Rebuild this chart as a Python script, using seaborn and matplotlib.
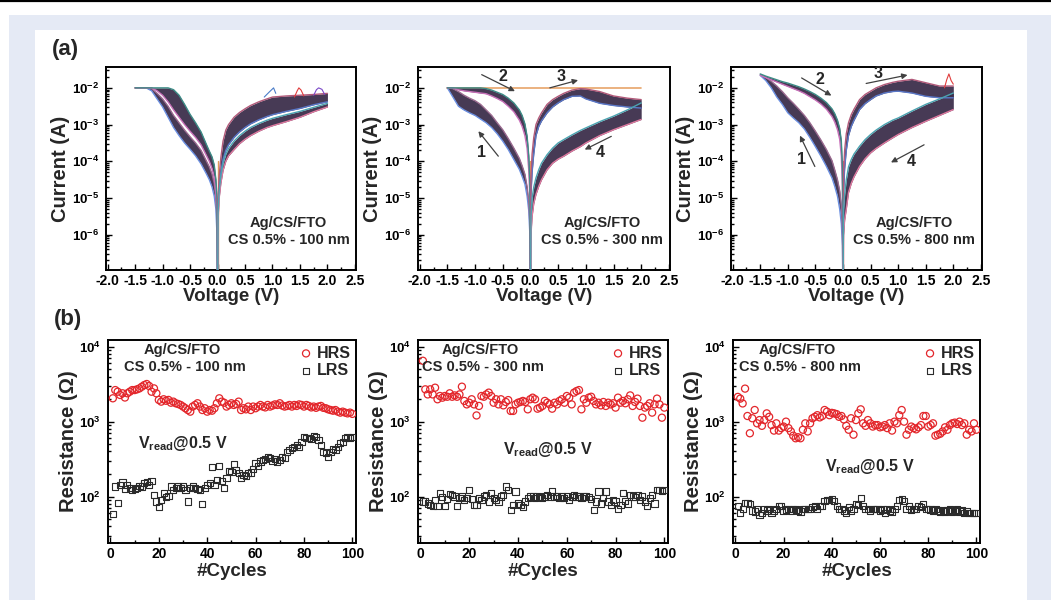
import numpy as np
import matplotlib
matplotlib.use('Agg')
import matplotlib.pyplot as plt
from matplotlib.patches import Rectangle
from matplotlib.lines import Line2D
from matplotlib.ticker import LogLocator, FuncFormatter, MultipleLocator, NullFormatter, FormatStrFormatter
import seaborn as sns

sns.set_style('ticks')
plt.rcParams['font.family'] = ['Liberation Sans', 'DejaVu Sans']
plt.rcParams['font.weight'] = 'bold'
plt.rcParams['axes.labelweight'] = 'bold'
plt.rcParams['axes.unicode_minus'] = False
plt.rcParams['mathtext.fontset'] = 'custom'
plt.rcParams['mathtext.rm'] = 'Liberation Sans:bold'
plt.rcParams['mathtext.bf'] = 'Liberation Sans:bold'
plt.rcParams['mathtext.it'] = 'Liberation Sans:bold:italic'

# ---------------- (a) I-V data: voltage grids and log10(current) envelopes ----------------
v_neg = [-1.5, -1.4, -1.3, -1.2, -1.1, -1.0, -0.9, -0.8, -0.7, -0.6, -0.5, -0.4, -0.3, -0.2, -0.15, -0.1, -0.06, -0.03, -0.01, 0.0]
v_pos = [0.0, 0.01, 0.03, 0.06, 0.1, 0.15, 0.2, 0.3, 0.4, 0.5, 0.6, 0.75, 0.9, 1.0, 1.25, 1.5, 1.75, 2.0]

# 100 nm
L_n1_lo = [-2.0, -2.0, -2.0, -2.08, -2.3, -2.52, -2.8, -3.08, -3.3, -3.5, -3.67, -3.85, -4.07, -4.35, -4.5, -4.7, -4.95, -5.3, -6.0, -8]
L_n1_hi = [-2.0, -2.0, -2.0, -2.02, -2.15, -2.3, -2.5, -2.75, -2.95, -3.15, -3.33, -3.5, -3.7, -4.0, -4.15, -4.35, -4.6, -5.0, -5.6, -8]
L_n2_lo = [-2.0, -2.0, -2.0, -2.0, -2.08, -2.2, -2.38, -2.6, -2.8, -3.0, -3.18, -3.35, -3.55, -3.85, -4.0, -4.2, -4.45, -4.85, -5.4, -8]
L_n2_hi = [-2.0, -2.0, -2.0, -2.0, -2.0, -2.0, -2.0, -2.05, -2.2, -2.45, -2.72, -2.95, -3.2, -3.55, -3.72, -3.88, -4.1, -4.5, -5.0, -8]
L_p3_lo = [-8, -5.3, -4.7, -4.3, -3.95, -3.7, -3.55, -3.35, -3.2, -3.08, -2.98, -2.87, -2.78, -2.73, -2.64, -2.56, -2.46, -2.38]
L_p3_hi = [-8, -5.0, -4.4, -3.9, -3.45, -3.15, -3.0, -2.8, -2.67, -2.57, -2.48, -2.38, -2.3, -2.25, -2.22, -2.2, -2.18, -2.15]
L_p4_lo = [-8, -5.6, -5.0, -4.6, -4.25, -4.0, -3.85, -3.68, -3.52, -3.4, -3.3, -3.18, -3.08, -3.03, -2.92, -2.8, -2.65, -2.52]
L_p4_hi = [-8, -5.4, -4.8, -4.4, -4.05, -3.8, -3.65, -3.45, -3.3, -3.18, -3.08, -2.97, -2.88, -2.83, -2.73, -2.64, -2.53, -2.42]
L_spk1_v = [1.40, 1.45, 1.48, 1.52, 1.57]
L_spk1_i = [-2.25, -2.08, -2.0, -2.06, -2.22]
L_spk2_v = [1.75, 1.80, 1.84, 1.90, 1.95]
L_spk2_i = [-2.2, -2.05, -2.0, -2.04, -2.18]
L_spk3_v = [0.85, 0.95, 1.02, 1.06]
L_spk3_i = [-2.25, -2.1, -2.0, -2.15]

# 300 nm
M_n1_lo = [-2.0, -2.25, -2.5, -2.6, -2.68, -2.75, -2.85, -2.95, -3.08, -3.25, -3.45, -3.68, -3.95, -4.22, -4.41, -4.62, -4.95, -5.35, -6.0, -8]
M_n1_hi = [-2.0, -2.02, -2.1, -2.2, -2.28, -2.35, -2.45, -2.6, -2.75, -2.95, -3.14, -3.38, -3.64, -3.92, -4.12, -4.35, -4.7, -5.1, -5.7, -8]
M_n2_lo = [-2.0, -2.0, -2.05, -2.08, -2.1, -2.12, -2.14, -2.16, -2.22, -2.29, -2.37, -2.5, -2.65, -2.88, -3.05, -3.3, -3.65, -4.25, -5.0, -8]
M_n2_hi = [-2.0, -2.0, -2.0, -2.0, -2.0, -2.0, -2.0, -2.02, -2.06, -2.12, -2.18, -2.28, -2.41, -2.6, -2.75, -2.98, -3.32, -3.85, -4.6, -8]
M_p3_lo = [-8, -4.9, -4.3, -3.8, -3.3, -3.05, -2.9, -2.68, -2.52, -2.41, -2.32, -2.23, -2.22, -2.3, -2.42, -2.48, -2.52, -2.55]
M_p3_hi = [-8, -4.4, -3.8, -3.35, -3.0, -2.82, -2.68, -2.45, -2.32, -2.23, -2.15, -2.06, -2.02, -2.03, -2.1, -2.22, -2.28, -2.32]
M_p4_lo = [-8, -6.0, -5.5, -5.15, -4.9, -4.68, -4.5, -4.23, -4.05, -3.94, -3.86, -3.72, -3.6, -3.5, -3.3, -3.14, -3.0, -2.86]
M_p4_hi = [-8, -5.5, -5.0, -4.7, -4.45, -4.23, -4.05, -3.82, -3.64, -3.5, -3.41, -3.28, -3.16, -3.09, -2.92, -2.77, -2.6, -2.41]

# 800 nm
R_n1_lo = [-1.66, -1.8, -2.0, -2.25, -2.45, -2.68, -2.82, -2.95, -3.12, -3.35, -3.6, -3.86, -4.14, -4.45, -4.68, -4.95, -5.3, -5.7, -6.3, -8]
R_n1_hi = [-1.64, -1.72, -1.82, -1.95, -2.1, -2.27, -2.42, -2.58, -2.75, -2.95, -3.18, -3.42, -3.68, -3.98, -4.23, -4.5, -4.8, -5.2, -5.8, -8]
R_n2_lo = [-1.66, -1.72, -1.78, -1.84, -1.9, -1.96, -2.02, -2.08, -2.15, -2.24, -2.33, -2.44, -2.58, -2.78, -2.93, -3.14, -3.4, -3.86, -4.7, -8]
R_n2_hi = [-1.62, -1.68, -1.73, -1.78, -1.83, -1.87, -1.92, -1.97, -2.03, -2.1, -2.18, -2.28, -2.4, -2.57, -2.7, -2.88, -3.1, -3.45, -4.2, -8]
R_p3_lo = [-8, -4.8, -4.2, -3.7, -3.3, -3.05, -2.88, -2.59, -2.43, -2.32, -2.22, -2.14, -2.1, -2.09, -2.14, -2.23, -2.27, -2.27]
R_p3_hi = [-8, -4.3, -3.7, -3.25, -2.95, -2.73, -2.58, -2.32, -2.18, -2.09, -2.0, -1.91, -1.85, -1.82, -1.77, -1.86, -1.95, -1.95]
R_p4_lo = [-8, -6.0, -5.6, -5.3, -4.85, -4.6, -4.42, -4.14, -3.93, -3.77, -3.65, -3.5, -3.36, -3.27, -3.08, -2.91, -2.75, -2.59]
R_p4_hi = [-8, -5.3, -4.9, -4.5, -4.15, -3.95, -3.8, -3.59, -3.41, -3.27, -3.15, -3.0, -2.88, -2.82, -2.63, -2.45, -2.3, -2.14]
R_spk_v = [1.84, 1.88, 1.92, 1.96, 2.0]
R_spk_i = [-2.0, -1.78, -1.62, -1.8, -1.9]

# compliance / zero-voltage lines
L_comp_v = [-1.5, -1.2]
M_comp_v = [-1.5, 2.0]
comp_i = [1e-2, 1e-2]
zero_v = [0.0, 0.0]
zero_i = [1e-8, 1e-4]

# arrows (tail V, tail log I, head V, head log I) and labels
M_arrows = [(-0.88, -1.64, -0.28, -2.09), (0.35, -2.0, 0.86, -1.79), (-0.58, -3.86, -0.94, -3.18), (1.46, -3.32, 0.98, -3.68)]
M_nums = [('2', -0.49, -1.68), ('3', 0.55, -1.68), ('1', -0.88, -3.77), ('4', 1.26, -3.77)]
R_arrows = [(-0.75, -1.73, -0.21, -2.21), (0.42, -1.88, 1.17, -1.65), (-0.51, -4.14, -0.78, -3.3), (1.47, -3.55, 0.87, -4.03)]
R_nums = [('2', -0.42, -1.77), ('3', 0.63, -1.61), ('1', -0.75, -3.94), ('4', 1.23, -4.0)]

# ---------------- (b) endurance data ----------------
cycles = list(range(1, 101))
hrs_100 = [2050, 2640, 2510, 2270, 2390, 2100, 2390, 2510, 2640, 2640, 2700, 2780, 2930, 3080, 3180, 2990, 2510, 2780, 2390, 1950,
           1850, 1990, 1900, 1950, 1790, 1850, 1760, 1720, 1670, 1590, 1510, 1430, 1360, 1590, 1670, 1760, 1590, 1430, 1510, 1360,
           1430, 1400, 1510, 1760, 2050, 1850, 1790, 1590, 1670, 1760, 1670, 1720, 1850, 1430, 1510, 1460, 1590, 1430, 1590, 1510,
           1590, 1670, 1590, 1550, 1670, 1590, 1640, 1700, 1670, 1760, 1640, 1590, 1620, 1670, 1590, 1670, 1620, 1700, 1670, 1590,
           1670, 1620, 1550, 1590, 1530, 1590, 1620, 1530, 1510, 1460, 1430, 1400, 1430, 1360, 1320, 1360, 1320, 1290, 1320, 1270]
lrs_100 = [59, 136, 83, 143, 154, 125, 143, 129, 123, 125, 129, 139, 136, 151, 158, 143, 163, 105, 86, 72,
           90, 111, 98, 102, 136, 123, 129, 136, 129, 136, 123, 86, 129, 136, 129, 125, 123, 80, 129, 143,
           151, 251, 143, 167, 256, 163, 129, 176, 222, 215, 272, 227, 205, 176, 194, 189, 205, 209, 231, 278,
           256, 293, 308, 315, 341, 324, 300, 315, 293, 308, 341, 324, 398, 419, 441, 464, 489, 464, 541, 631,
           600, 610, 590, 651, 631, 570, 489, 398, 378, 341, 398, 429, 419, 464, 514, 541, 600, 620, 610, 631]
hrs_300 = [6500, 2700, 2310, 2700, 2310, 2840, 1990, 2200, 2090, 2200, 2150, 2390, 2150, 2240, 2150, 2310, 2930, 1890, 1700, 1790,
           1990, 1700, 1210, 1620, 2200, 2150, 2310, 2440, 2200, 1790, 1990, 1700, 1990, 1650, 1830, 1940, 1390, 1390, 1700, 1790,
           1830, 1890, 1830, 1460, 1990, 2090, 1990, 1490, 1540, 1620, 1890, 1790, 1700, 1490, 1790, 1700, 1890, 1990, 1790, 2200,
           2090, 1700, 2440, 2560, 2640, 1460, 1990, 1790, 2090, 2150, 1890, 1700, 1790, 1650, 1830, 1620, 1790, 1700, 1760, 1540,
           2090, 1790, 1890, 1760, 1990, 2240, 1620, 1830, 2030, 1620, 1130, 1540, 1620, 1760, 1320, 1700, 2030, 1700, 1130, 1540]
lrs_300 = [86, 86, 81, 77, 75, 90, 74, 111, 98, 74, 92, 109, 105, 100, 74, 95, 100, 90, 95, 123,
           92, 77, 77, 95, 90, 100, 105, 86, 111, 95, 90, 86, 100, 105, 136, 123, 66, 77, 117, 81,
           77, 72, 86, 95, 100, 100, 95, 100, 98, 95, 100, 105, 100, 117, 100, 102, 95, 100, 95, 102,
           90, 98, 105, 100, 100, 95, 100, 100, 98, 92, 66, 86, 117, 81, 95, 117, 86, 77, 90, 86,
           68, 77, 111, 88, 81, 105, 100, 98, 105, 90, 100, 86, 74, 95, 105, 81, 123, 123, 120, 123]
hrs_800 = [2140, 2030, 1750, 2760, 1190, 700, 1110, 1430, 950, 1050, 880, 1050, 1290, 1160, 900, 760, 950, 760, 820, 860,
           1000, 820, 740, 650, 600, 620, 600, 780, 950, 740, 950, 1110, 1160, 1220, 1140, 1190, 1430, 1360, 1220, 1310,
           1290, 1260, 1160, 1190, 1070, 880, 780, 1110, 670, 1050, 1290, 1460, 950, 880, 1050, 950, 860, 900, 900, 840,
           860, 900, 820, 950, 760, 1000, 950, 1220, 1430, 1000, 670, 780, 860, 820, 790, 840, 900, 1190, 1190, 860,
           900, 950, 650, 670, 690, 740, 840, 780, 900, 950, 970, 930, 1000, 900, 950, 670, 780, 740, 950, 780]
lrs_800 = [75, 60, 68, 82, 82, 79, 65, 63, 68, 57, 61, 68, 65, 69, 61, 65, 69, 75, 74, 65,
           67, 68, 65, 68, 67, 65, 63, 68, 69, 68, 69, 72, 75, 68, 74, 75, 88, 90, 90, 92,
           88, 75, 68, 69, 65, 61, 72, 65, 68, 79, 77, 95, 74, 68, 69, 65, 68, 69, 68, 65,
           67, 61, 68, 65, 63, 68, 74, 90, 92, 88, 68, 74, 67, 69, 68, 75, 72, 79, 69, 68,
           67, 65, 68, 65, 63, 65, 63, 65, 67, 63, 65, 67, 63, 65, 60, 63, 61, 60, 61, 60]

thick_labels = ['CS 0.5% - 100 nm', 'CS 0.5% - 300 nm', 'CS 0.5% - 800 nm']

# ---------------- figure ----------------
W, H = 1051, 600
fig = plt.figure(figsize=(W / 100, H / 100), dpi=100)
fig.patch.set_facecolor('white')
fig.patches.append(Rectangle((9 / W, 0), (W - 9) / W, (H - 15) / H, transform=fig.transFigure,
                             facecolor='#e5eaf5', edgecolor='none', zorder=-10))
fig.patches.append(Rectangle((35 / W, 0), (1027 - 35) / W, (H - 30) / H, transform=fig.transFigure,
                             facecolor='white', edgecolor='none', zorder=-9))
fig.add_artist(Line2D([0, 1], [1 - 1 / H, 1 - 1 / H], transform=fig.transFigure, color='black', lw=1.6))


def px_axes(x0, y0, x1, y1):
    return fig.add_axes([x0 / W, 1 - y1 / H, (x1 - x0) / W, (y1 - y0) / H])


a_boxes = [(106, 67, 356, 270), (418, 67, 670, 270), (731, 67, 982, 270)]
b_boxes = [(108, 340, 356, 543), (418, 340, 668, 543), (733, 340, 980, 543)]

pow_fmt = FuncFormatter(lambda v, p: r'$\mathbf{10^{%d}}$' % int(round(np.log10(v))) if v > 0 else '')


def style_axis(ax):
    for s in ax.spines.values():
        s.set_linewidth(1.4)
        s.set_color('black')
    ax.tick_params(which='both', direction='in', top=False, right=False, width=1.0, colors='black')
    ax.tick_params(which='major', length=4.5)
    ax.tick_params(which='minor', length=2.5)
    ax.tick_params(axis='x', labelsize=10, pad=3)
    ax.tick_params(axis='y', labelsize=9.5, pad=5)


band_fill = '#3d2f4c'
edge_cols = [('#6b8fe0', '#9a6a8f'), ('#c76fb8', '#3d8c86'), ('#5a78c8', '#b25a7a'), ('#e07aa0', '#4aa3b0')]

sets = [
    dict(n1=(L_n1_lo, L_n1_hi), n2=(L_n2_lo, L_n2_hi), p3=(L_p3_lo, L_p3_hi), p4=(L_p4_lo, L_p4_hi)),
    dict(n1=(M_n1_lo, M_n1_hi), n2=(M_n2_lo, M_n2_hi), p3=(M_p3_lo, M_p3_hi), p4=(M_p4_lo, M_p4_hi)),
    dict(n1=(R_n1_lo, R_n1_hi), n2=(R_n2_lo, R_n2_hi), p3=(R_p3_lo, R_p3_hi), p4=(R_p4_lo, R_p4_hi)),
]

for k, box in enumerate(a_boxes):
    ax = px_axes(*box)
    ax.set_yscale('log')
    d = sets[k]
    zc = '#e09a5a' if k < 2 else '#e05a6a'
    sns.lineplot(x=zero_v, y=zero_i, ax=ax, color=zc, lw=1.0, sort=False, estimator=None)
    if k == 0:
        sns.lineplot(x=L_comp_v, y=comp_i, ax=ax, color='#e8a46a', lw=1.2, sort=False, estimator=None)
    if k == 1:
        sns.lineplot(x=M_comp_v, y=comp_i, ax=ax, color='#e8a46a', lw=1.2, sort=False, estimator=None)
    for j, (key, vv) in enumerate([('n1', v_neg), ('n2', v_neg), ('p3', v_pos), ('p4', v_pos)]):
        lo, hi = d[key]
        ilo = 10.0 ** np.array(lo)
        ihi = 10.0 ** np.array(hi)
        ax.fill_between(vv, ilo, ihi, color=band_fill, lw=0, alpha=0.95, zorder=2)
        c1, c2 = edge_cols[j]
        sns.lineplot(x=vv, y=ilo, ax=ax, color=c1, lw=1.0, sort=False, estimator=None, zorder=3)
        sns.lineplot(x=vv, y=ihi, ax=ax, color=c2, lw=1.0, sort=False, estimator=None, zorder=3)
    if k == 0:
        for sv, si, sc in [(L_spk1_v, L_spk1_i, '#e03c3c'), (L_spk2_v, L_spk2_i, '#7a48c8'), (L_spk3_v, L_spk3_i, '#4a7cc8')]:
            sns.lineplot(x=sv, y=10.0 ** np.array(si), ax=ax, color=sc, lw=0.8, sort=False, estimator=None, zorder=3)
    if k == 2:
        sns.lineplot(x=R_spk_v, y=10.0 ** np.array(R_spk_i), ax=ax, color='#e03c3c', lw=0.8, sort=False, estimator=None, zorder=3)
    if k in (1, 2):
        arrows = M_arrows if k == 1 else R_arrows
        nums = M_nums if k == 1 else R_nums
        for (tv, ti, hv, hi_) in arrows:
            ax.annotate('', xy=(hv, 10 ** hi_), xytext=(tv, 10 ** ti),
                        arrowprops=dict(arrowstyle='-|>', color='#404040', lw=0.9, mutation_scale=8,
                                        shrinkA=0, shrinkB=0), zorder=5)
        for (t, tv, ti) in nums:
            ax.text(tv, 10 ** ti, t, ha='center', va='center', fontsize=11.5, fontweight='bold', zorder=5)
    ax.set_xlim(-2.03, 2.52)
    ax.set_ylim(1.1e-7, 3.7e-2)
    ax.xaxis.set_major_locator(MultipleLocator(0.5))
    ax.xaxis.set_minor_locator(MultipleLocator(0.25))
    ax.xaxis.set_major_formatter(FormatStrFormatter('%.1f'))
    ax.yaxis.set_major_locator(LogLocator(base=10, numticks=12))
    ax.yaxis.set_minor_locator(LogLocator(base=10, subs=np.arange(2, 10), numticks=12))
    ax.yaxis.set_major_formatter(pow_fmt)
    ax.yaxis.set_minor_formatter(NullFormatter())
    style_axis(ax)
    ax.set_xlabel('Voltage (V)', fontsize=13.5, fontweight='bold', labelpad=0)
    ax.set_ylabel('Current (A)', fontsize=14.5, fontweight='bold', labelpad=1)
    ax.text(0.73, 0.23, 'Ag/CS/FTO', transform=ax.transAxes, ha='center', va='center', fontsize=10.5, fontweight='bold')
    ax.text(0.73, 0.148, thick_labels[k], transform=ax.transAxes, ha='center', va='center', fontsize=10.5, fontweight='bold')

b_data = [(hrs_100, lrs_100), (hrs_300, lrs_300), (hrs_800, lrs_800)]
b_txt_x = [0.30, 0.25, 0.26]
vread_pos = [(0.30, 0.49), (0.52, 0.46), (0.555, 0.375)]
for k, box in enumerate(b_boxes):
    ax = px_axes(*box)
    ax.set_yscale('log')
    hrs, lrs = b_data[k]
    sns.scatterplot(x=cycles, y=hrs, ax=ax, marker='o', s=26, facecolor='none', edgecolor='#e3262b',
                    linewidth=0.9, label='HRS', zorder=3)
    sns.scatterplot(x=cycles, y=lrs, ax=ax, marker='s', s=20, facecolor='none', edgecolor='#2b2b2b',
                    linewidth=0.8, label='LRS', zorder=3)
    ax.set_xlim(-1, 101.5)
    ax.set_ylim(24, 1.23e4)
    ax.xaxis.set_major_locator(MultipleLocator(20))
    ax.xaxis.set_minor_locator(MultipleLocator(10))
    ax.yaxis.set_major_locator(LogLocator(base=10, numticks=12))
    ax.yaxis.set_minor_locator(LogLocator(base=10, subs=np.arange(2, 10), numticks=12))
    ax.yaxis.set_major_formatter(pow_fmt)
    ax.yaxis.set_minor_formatter(NullFormatter())
    style_axis(ax)
    ax.set_xlabel('#Cycles', fontsize=13.5, fontweight='bold', labelpad=1)
    ax.set_ylabel('Resistance (Ω)', fontsize=14.5, fontweight='bold', labelpad=1)
    ax.legend(loc='upper right', frameon=False, handletextpad=0.05, borderaxespad=0.15,
              labelspacing=0.15, fontsize=11.5, borderpad=0.2, handlelength=1.2)
    ax.text(b_txt_x[k], 0.95, 'Ag/CS/FTO', transform=ax.transAxes, ha='center', va='center', fontsize=10.5, fontweight='bold')
    ax.text(b_txt_x[k] + 0.01, 0.865, thick_labels[k], transform=ax.transAxes, ha='center', va='center', fontsize=10.5, fontweight='bold')
    vx, vy = vread_pos[k]
    ax.text(vx, vy, r'V$_{\mathbf{read}}$@0.5 V', transform=ax.transAxes, ha='center', va='center', fontsize=11.5, fontweight='bold')

fig.text(65 / W, 1 - 50 / H, '(a)', ha='center', va='center', fontsize=16, fontweight='bold')
fig.text(68 / W, 1 - 320 / H, '(b)', ha='center', va='center', fontsize=16, fontweight='bold')

fig.savefig('out.png', dpi=100, facecolor=fig.get_facecolor())
